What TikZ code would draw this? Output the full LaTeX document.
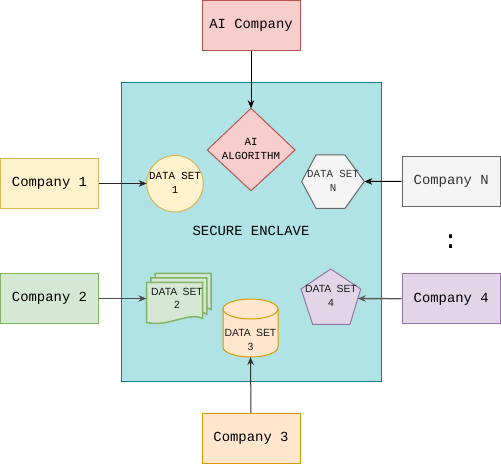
\documentclass[tikz,border=0pt]{standalone}
\usepackage{fontspec}
\setmonofont{Liberation Mono}
\newfontfamily\sansf{Liberation Sans}
\usetikzlibrary{arrows.meta}
\definecolor{aifill}{HTML}{F8CECC}\definecolor{aidraw}{HTML}{B85450}
\definecolor{yfill}{HTML}{FFF2CC}\definecolor{ydraw}{HTML}{D6B656}
\definecolor{gfill}{HTML}{D5E8D4}\definecolor{gdraw}{HTML}{82B366}
\definecolor{ofill}{HTML}{FFE6CC}\definecolor{odraw}{HTML}{D79B00}
\definecolor{pfill}{HTML}{E1D5E7}\definecolor{pdraw}{HTML}{9673A6}
\definecolor{nfill}{HTML}{F5F5F5}\definecolor{ndraw}{HTML}{666666}
\definecolor{efill}{HTML}{B0E3E6}\definecolor{edraw}{HTML}{0E8088}
\definecolor{ntext}{HTML}{333333}
\tikzset{
  company/.style={draw, rectangle, minimum width=98pt, minimum height=50pt, inner sep=0pt,
    line width=1pt, font=\ttfamily\fontsize{13.9}{16}\selectfont},
  monolbl/.style={align=center, inner sep=0pt, font=\ttfamily\fontsize{10.8}{14}\selectfont},
  sanslbl/.style={align=center, inner sep=0pt, text=black!90, font=\sansf\fontsize{10.4}{13.3}\selectfont},
  shapeline/.style={line width=1pt},
  conn/.style={line width=1pt, -{Stealth[length=8pt,width=6.5pt,inset=2.5pt]}},
}
\newcommand\docpg[2]{(#1,#2) -- ++(56,0) -- ++(0,36) .. controls (#1+42,#2+29) and (#1+22,#2+45) .. (#1,#2+40) -- cycle}
\begin{document}
\begin{tikzpicture}[x=1pt,y=-1pt]
\useasboundingbox (0,0) rectangle (501,465);
\fill[white] (0,0) rectangle (501,465);

% enclave
\draw[fill=efill, draw=edraw, line width=1pt] (121.5,83) rectangle (381.5,381);
\node[font=\ttfamily\fontsize{13.9}{16}\selectfont, inner sep=0pt] (enc) at (251,231) {SECURE ENCLAVE};

% companies
\node[company, fill=aifill, draw=aidraw, minimum height=50.5pt] (ai) at (251,25.5) {AI Company};
\node[company, fill=yfill, draw=ydraw] (c1) at (49.5,183.5) {Company 1};
\node[company, fill=gfill, draw=gdraw] (c2) at (49.5,298.5) {Company 2};
\node[company, fill=ofill, draw=odraw] (c3) at (251,438.5) {Company 3};
\node[company, fill=pfill, draw=pdraw] (c4) at (451.2,298.8) {Company 4};
\node[company, fill=nfill, draw=ndraw, text=ntext] (cn) at (451.2,181.3) {Company N};
\node[inner sep=0pt, anchor=base, font=\ttfamily\fontsize{26}{30}\selectfont] (dots) at (450.7,248.5) {:};

% data set 1: circle
\draw[shapeline, fill=yfill, draw=ydraw] (175,183.7) circle[radius=28.3];
\node[monolbl] (ds1) at (175,183) {DATA SET\\1};
\coordinate (ds1w) at (146.7,183.5);

% AI algorithm: diamond
\draw[shapeline, fill=aifill, draw=aidraw] (251,108.3) -- (295,150) -- (251,190.7) -- (207.3,150) -- cycle;
\node[monolbl] (algo) at (251,148.5) {AI\\ALGORITHM};
\coordinate (algon) at (251,108.3);

% data set N: hexagon
\draw[shapeline, fill=nfill, draw=ndraw] (301.7,181.5) -- (316,155) -- (345,155) -- (364.3,181.5) -- (345,208.3) -- (316,208.3) -- cycle;
\node[monolbl, text=ntext] (dsn) at (333,181) {DATA SET\\N};
\coordinate (dsne) at (364.3,181.5);

% data set 2: multi document
\draw[line width=1.5pt, fill=gfill, draw=gdraw] \docpg{155}{273.5};
\draw[line width=1.5pt, fill=gfill, draw=gdraw] \docpg{150.8}{278};
\draw[line width=1.5pt, fill=gfill, draw=gdraw] \docpg{146.5}{282.5};
\node[sanslbl] (ds2) at (177,298.5) {DATA\hspace{0.5em}SET\\2};
\coordinate (ds2w) at (146.5,298.5);

% data set 3: cylinder
\draw[shapeline, fill=ofill, draw=odraw]
  (223,309) -- (223,347)
  .. controls (223,352.52) and (235.31,357) .. (250.5,357)
  .. controls (265.69,357) and (278,352.52) .. (278,347)
  -- (278,309)
  .. controls (278,303.48) and (265.69,299) .. (250.5,299)
  .. controls (235.31,299) and (223,303.48) .. (223,309) -- cycle;
\draw[shapeline, draw=odraw]
  (223,309) .. controls (223,314.52) and (235.31,319) .. (250.5,319)
  .. controls (265.69,319) and (278,314.52) .. (278,309);
\node[sanslbl] (ds3) at (250.5,340) {DATA\hspace{0.5em}SET\\3};
\coordinate (ds3s) at (250.5,357);

% data set 4: pentagon
\draw[shapeline, fill=pfill, draw=pdraw] (330.7,269) -- (360.7,289) -- (350,324.3) -- (312.7,324.3) -- (301,289) -- cycle;
\node[sanslbl] (ds4) at (331,296) {DATA\hspace{0.5em}SET\\4};
\coordinate (ds4e) at (357.8,298.5);

% connectors
\draw[conn, black] (ai.south) -- (algon);
\draw[conn, black!85] (c1.east) -- (ds1w);
\draw[conn, black!70, line width=1.4pt] (c2.east) -- (ds2w);
\draw[conn, black!80] (c3.north) -- (ds3s);
\draw[conn, black!65, line width=1.4pt] (c4.west) -- (ds4e);
\draw[conn, black] (cn.west) -- (dsne);
\end{tikzpicture}
\end{document}
